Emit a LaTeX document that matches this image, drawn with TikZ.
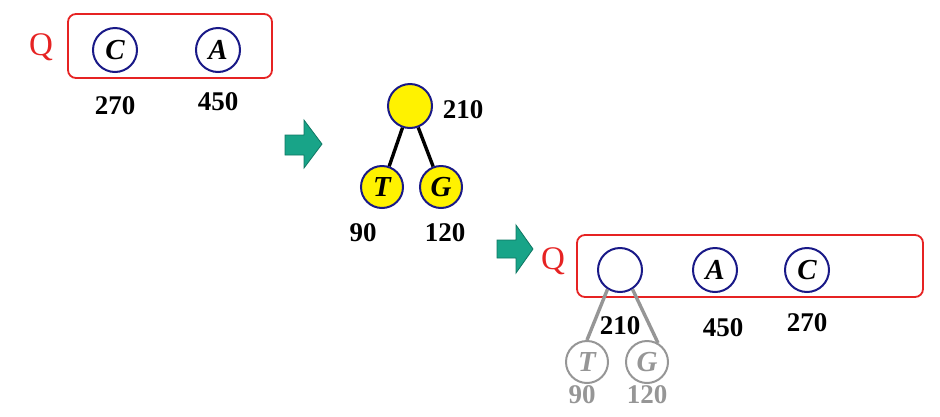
\documentclass[tikz,border=0pt]{standalone}
\usepackage{fontspec}
\setmainfont{Liberation Serif}
\definecolor{qred}{RGB}{230,35,35}
\definecolor{navy}{RGB}{25,25,135}
\definecolor{arrowfill}{RGB}{24,164,136}
\definecolor{arrowline}{RGB}{14,118,98}
\definecolor{ghost}{RGB}{150,150,150}
\definecolor{leafyellow}{RGB}{255,242,0}

\begin{document}
\begin{tikzpicture}[x=1pt, y=-1pt, node distance={56pt},
  main/.style = {draw=navy, circle, line width=2pt, minimum size=44pt, inner sep=0pt, font=\fontsize{29}{29}\selectfont\bfseries\itshape},
  leaf/.style = {main, fill=leafyellow, minimum size=42pt},
  faded/.style = {draw=ghost, circle, line width=2pt, minimum size=42pt, inner sep=0pt, text=ghost, font=\fontsize{29}{29}\selectfont\bfseries\itshape},
  num/.style = {font=\fontsize{27}{27}\selectfont\bfseries},
  qlab/.style = {text=qred, font=\fontsize{33}{33}\selectfont},
  qbox/.style = {draw=qred, line width=1.8pt, rounded corners=8pt},
  fatarrow/.style = {fill=arrowfill, draw=arrowline, line width=0.8pt},
  edge/.style = {line width=3.4pt}]
    \useasboundingbox (0,0) rectangle (940,416);
    % first queue
    \node[qlab] (q1) at (41,47) {Q};
    \draw[qbox] (68,14) rectangle (272,78);
    \node[main] (c1) at (115,50) {C};
    \node[main] (a1) at (218,50) {A};
    \node[num] (n270) [below of=c1] {270};
    \node[num] (n450) [below of=a1, node distance=52pt] {450};
    \filldraw[fatarrow] (285,135) -- (304,135) -- (304,120) -- (322,144) -- (304,168) -- (304,155) -- (285,155) -- cycle;
    % merged tree
    \node[leaf, minimum size=44pt] (r0) at (410,106) {};
    \node[leaf] (t0) at (382,187) {T};
    \node[leaf] (g0) at (441,187) {G};
    \node[num] (n210) at (463,110) {210};
    \node[num] (n90) at (363,233) {90};
    \node[num] (n120) at (445,233) {120};
    \draw[edge] (r0) -- (t0);
    \draw[edge] (r0) -- (g0);
    \filldraw[fatarrow] (497,240) -- (516,240) -- (516,225) -- (533,249) -- (516,273) -- (516,258) -- (497,258) -- cycle;
    % second queue
    \node[qlab] (q2) at (553,261) {Q};
    \draw[qbox] (577,235) rectangle (923,297);
    \node[main] (e2) at (620,270) {};
    \node[main] (a2) at (715,270) {A};
    \node[main] (c2) at (807,270) {C};
    \node[num] (n210b) [below of=e2] {210};
    \node[num] (n450b) at (723,328) {450};
    \node[num] (n270b) [below of=c2, node distance=53pt] {270};
    \node[faded] (t2) at (587,362) {T};
    \node[faded] (g2) at (647,362) {G};
    \node[num, text=ghost] (n90b) at (582,395) {90};
    \node[num, text=ghost] (n120b) [below of=g2, node distance=33pt] {120};
    \draw[edge, ghost] (e2.237) -- (t2.north);
    \draw[edge, ghost] (e2.303) -- (g2.60);
\end{tikzpicture}
\end{document}
